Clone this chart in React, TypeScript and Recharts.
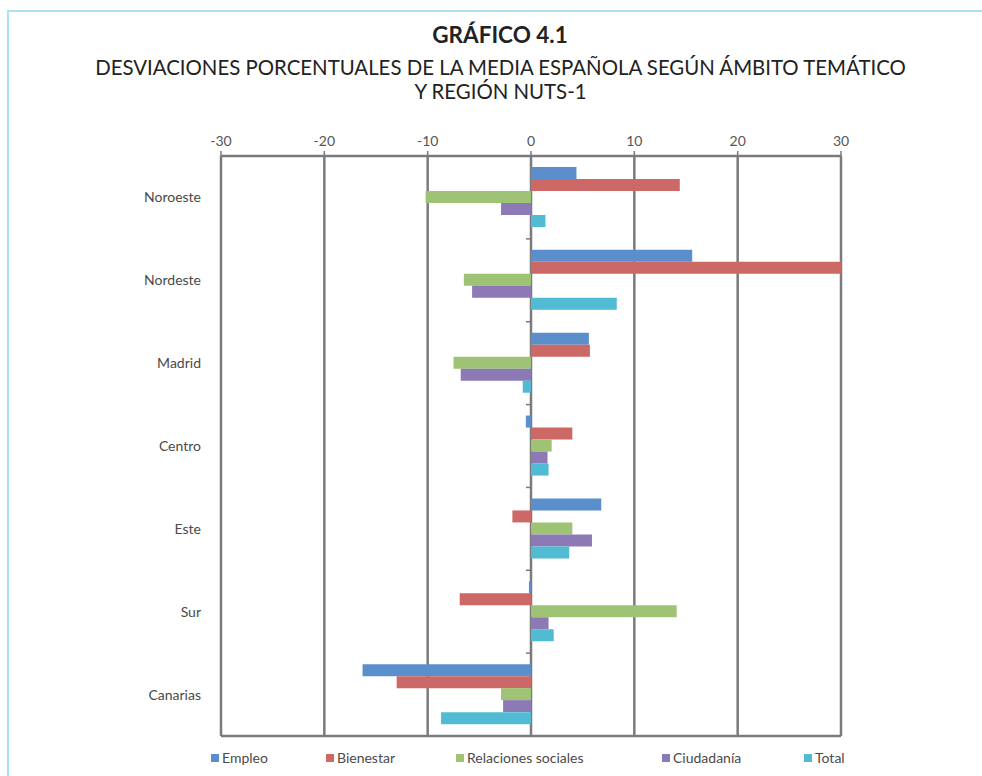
import { BarChart, Bar, XAxis, YAxis, CartesianGrid } from 'recharts';

const REGIONS = ['Noroeste', 'Nordeste', 'Madrid', 'Centro', 'Este', 'Sur', 'Canarias'];

const EMPLEO = [4.4, 15.6, 5.6, -0.5, 6.8, -0.2, -16.3];
const BIENESTAR = [14.4, 30, 5.7, 4.0, -1.8, -6.9, -13.0];
const RELACIONES = [-10.2, -6.5, -7.5, 2.0, 4.0, 14.1, -2.9];
const CIUDADANIA = [-2.9, -5.7, -6.8, 1.6, 5.9, 1.7, -2.7];
const TOTAL = [1.4, 8.3, -0.8, 1.7, 3.7, 2.2, -8.7];

const X_TICKS = [-30, -20, -10, 0, 10, 20, 30];

const SERIES = [
  { key: 'empleo', name: 'Empleo', color: '#5b8fcc', values: EMPLEO },
  { key: 'bienestar', name: 'Bienestar', color: '#cc6966', values: BIENESTAR },
  { key: 'relaciones', name: 'Relaciones sociales', color: '#9ec374', values: RELACIONES },
  { key: 'ciudadania', name: 'Ciudadanía', color: '#8c79b6', values: CIUDADANIA },
  { key: 'total', name: 'Total', color: '#50bbd2', values: TOTAL }
];

const data = REGIONS.map((region, i) => {
  const row: { region: string; [key: string]: string | number } = { region };
  SERIES.forEach((s) => {
    row[s.key] = s.values[i];
  });
  return row;
});

const FONT = 'Lato, "Open Sans", sans-serif';
const GRID = '#7b7b7d';
const PLOT_LEFT = 221;
const PLOT_TOP = 156;
const PLOT_W = 620;
const ZERO_X = PLOT_LEFT + PLOT_W / 2;

// legend slots (Excel spreads these unevenly)
const LEGEND_LEFT = [211, 326, 456, 662, 804];

function RegionTick(props: any) {
  const { y, payload, index } = props;
  const half = payload?.offset ?? 41;
  return (
    <g>
      <text x={PLOT_LEFT - 20} y={y} dy={5} textAnchor="end" fill="#4a4a4a" fontSize={14} fontFamily={FONT}>
        {payload.value}
      </text>
      <line x1={ZERO_X - 5} x2={ZERO_X} y1={y - half} y2={y - half} stroke={GRID} strokeWidth={1.5} />
      {index === REGIONS.length - 1 && (
        <line x1={ZERO_X - 5} x2={ZERO_X} y1={y + half} y2={y + half} stroke={GRID} strokeWidth={1.5} />
      )}
    </g>
  );
}

export default function App() {
  return (
    <div style={{ position: 'absolute', left: 0, top: 0, width: 982, height: 776, background: '#fff', fontFamily: FONT }}>
      <div
        style={{
          position: 'absolute',
          left: 7,
          top: 10,
          width: 975,
          height: 766,
          borderTop: '2px solid #ade0f4',
          borderLeft: '2px solid #ade0f4',
          boxSizing: 'border-box'
        }}
      />
      <div style={{ position: 'absolute', left: 0, width: 1000, top: 21, textAlign: 'center', fontSize: 22.5, fontWeight: 700, color: '#222' }}>
        GRÁFICO 4.1
      </div>
      <div style={{ position: 'absolute', left: 0, width: 1001, top: 55, textAlign: 'center', fontSize: 20.4, lineHeight: '24px', color: '#222' }}>
        DESVIACIONES PORCENTUALES DE LA MEDIA ESPAÑOLA SEGÚN ÁMBITO TEMÁTICO
        <br />
        Y REGIÓN NUTS-1
      </div>
      <div style={{ position: 'absolute', left: 0, top: 0 }}>
        <BarChart
          width={982}
          height={776}
          data={data}
          layout="vertical"
          barCategoryGap={11}
          barGap={0}
          margin={{ top: PLOT_TOP - 30, right: 982 - PLOT_LEFT - PLOT_W, bottom: 38, left: PLOT_LEFT - 100 }}
        >
          <CartesianGrid horizontal={false} stroke={GRID} strokeWidth={2.5} />
          <XAxis
            type="number"
            orientation="top"
            domain={[-30, 30]}
            ticks={X_TICKS}
            height={30}
            allowDataOverflow
            tickSize={5}
            tickMargin={5}
            axisLine={{ stroke: GRID, strokeWidth: 2.5 }}
            tickLine={{ stroke: GRID, strokeWidth: 1.5 }}
            tick={{ fill: '#555', fontSize: 14, fontFamily: FONT }}
          />
          <XAxis
            xAxisId="bottom"
            type="number"
            orientation="bottom"
            domain={[-30, 30]}
            height={2}
            tick={false}
            tickLine={false}
            axisLine={{ stroke: GRID, strokeWidth: 2.5 }}
          />
          <YAxis
            type="category"
            dataKey="region"
            width={100}
            axisLine={false}
            tickLine={false}
            interval={0}
            tick={<RegionTick />}
          />
          {SERIES.map((s) => (
            <Bar key={s.key} dataKey={s.key} name={s.name} fill={s.color} isAnimationActive={false} />
          ))}
        </BarChart>
      </div>
      {SERIES.map((s, i) => (
        <div
          key={s.key}
          style={{
            position: 'absolute',
            left: LEGEND_LEFT[i],
            top: 749,
            display: 'flex',
            alignItems: 'center',
            fontSize: 14,
            color: '#4a4a4a',
            whiteSpace: 'nowrap'
          }}
        >
          <span style={{ width: 8, height: 8, background: s.color, marginRight: 3, display: 'inline-block' }} />
          {s.name}
        </div>
      ))}
    </div>
  );
}
